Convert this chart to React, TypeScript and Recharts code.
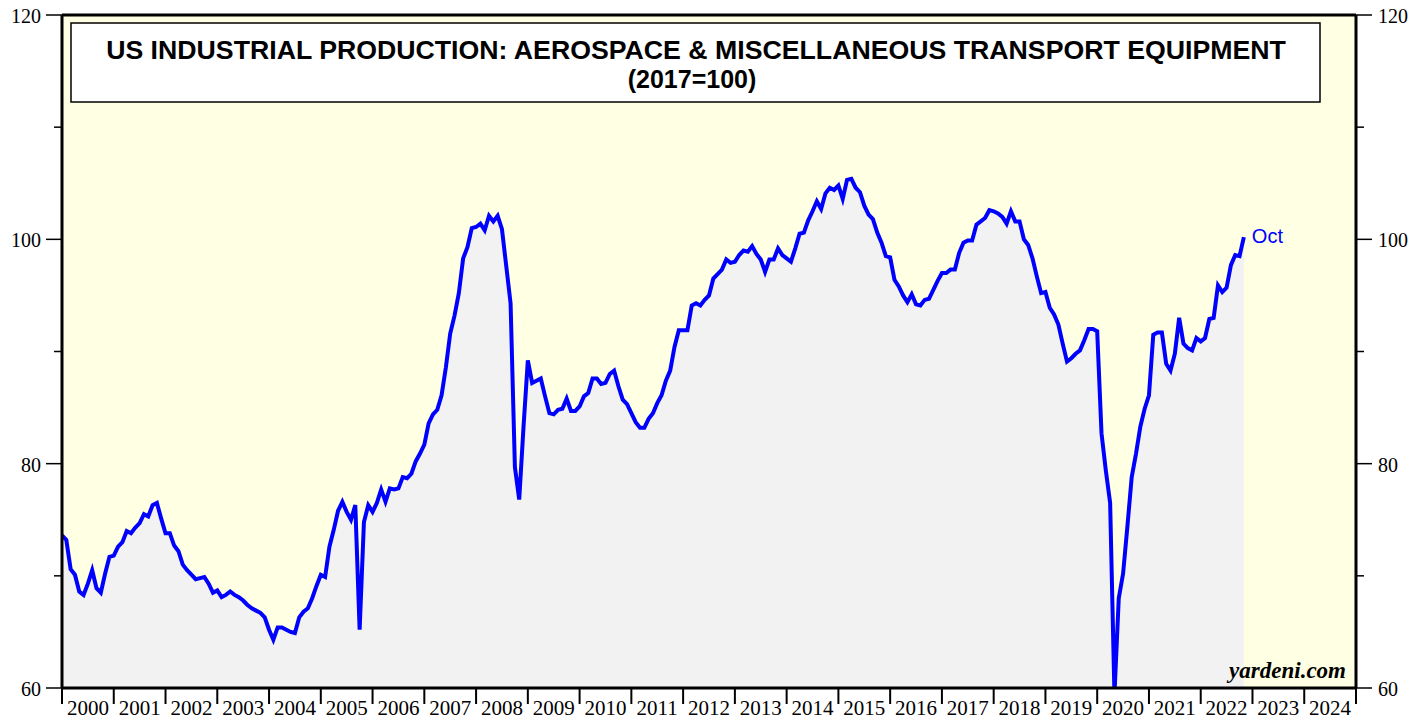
import { ComposedChart, Area, XAxis, YAxis, ReferenceArea, ReferenceLine } from "recharts";

// monthly index values, 2017=100 (Dec 1999 is the starting point on the left edge)
const dec1999 = 73.6;
const v2000 = [73.2, 70.6, 70.1, 68.6, 68.3, 69.3, 70.5, 68.9, 68.5, 70.2, 71.7, 71.8];
const v2001 = [72.6, 73.0, 74.0, 73.8, 74.3, 74.7, 75.5, 75.3, 76.3, 76.5, 75.1, 73.8];
const v2002 = [73.8, 72.7, 72.2, 71.0, 70.5, 70.1, 69.7, 69.8, 69.9, 69.3, 68.5, 68.7];
const v2003 = [68.1, 68.3, 68.6, 68.3, 68.1, 67.8, 67.4, 67.1, 66.9, 66.7, 66.3, 65.2];
const v2004 = [64.3, 65.4, 65.4, 65.2, 65.0, 64.9, 66.3, 66.8, 67.1, 68.0, 69.1, 70.1];
const v2005 = [69.9, 72.6, 74.1, 75.8, 76.6, 75.7, 75.0, 76.3, 65.2, 74.8, 76.3, 75.7];
const v2006 = [76.5, 77.7, 76.6, 77.8, 77.7, 77.8, 78.8, 78.7, 79.1, 80.2, 80.9, 81.7];
const v2007 = [83.6, 84.4, 84.8, 86.1, 88.6, 91.6, 93.2, 95.2, 98.3, 99.3, 101.0, 101.1];
const v2008 = [101.4, 100.8, 102.1, 101.6, 102.1, 100.9, 97.6, 94.3, 79.7, 76.8, 83.3, 89.2];
const v2009 = [87.2, 87.4, 87.6, 86.0, 84.5, 84.4, 84.8, 84.9, 85.8, 84.7, 84.7, 85.1];
const v2010 = [86.0, 86.3, 87.6, 87.6, 87.1, 87.2, 88.0, 88.3, 86.9, 85.7, 85.3, 84.5];
const v2011 = [83.7, 83.2, 83.2, 84.0, 84.5, 85.4, 86.1, 87.4, 88.3, 90.4, 91.9, 91.9];
const v2012 = [91.9, 94.1, 94.3, 94.1, 94.6, 95.0, 96.5, 96.9, 97.3, 98.2, 97.9, 98.0];
const v2013 = [98.6, 99.0, 98.9, 99.4, 98.7, 98.2, 97.1, 98.2, 98.2, 99.2, 98.6, 98.3];
const v2014 = [98.0, 99.2, 100.5, 100.6, 101.7, 102.5, 103.4, 102.7, 104.1, 104.6, 104.4, 104.8];
const v2015 = [103.6, 105.3, 105.4, 104.6, 104.2, 103.0, 102.2, 101.8, 100.6, 99.7, 98.5, 98.4];
const v2016 = [96.4, 95.8, 95.0, 94.4, 95.1, 94.2, 94.1, 94.6, 94.7, 95.5, 96.3, 97.0];
const v2017 = [97.0, 97.3, 97.3, 98.8, 99.7, 99.9, 99.9, 101.3, 101.6, 101.9, 102.6, 102.5];
const v2018 = [102.3, 102.0, 101.4, 102.5, 101.6, 101.6, 100.0, 99.5, 98.3, 96.7, 95.2, 95.3];
const v2019 = [93.9, 93.3, 92.4, 90.7, 89.1, 89.4, 89.8, 90.1, 91.0, 92.0, 92.0, 91.8];
const v2020 = [82.7, 79.4, 76.5, 59.4, 68.0, 70.2, 74.4, 78.8, 80.9, 83.3, 84.9, 86.1];
const v2021 = [91.5, 91.7, 91.7, 88.9, 88.3, 89.8, 93.0, 90.7, 90.3, 90.1, 91.2, 90.9];
const v2022 = [91.2, 92.9, 93.0, 95.9, 95.3, 95.7, 97.7, 98.6, 98.5, 100.2];

const dataYears = [2000, 2001, 2002, 2003, 2004, 2005, 2006, 2007, 2008, 2009, 2010, 2011,
  2012, 2013, 2014, 2015, 2016, 2017, 2018, 2019, 2020, 2021, 2022];
const yearly = [v2000, v2001, v2002, v2003, v2004, v2005, v2006, v2007, v2008, v2009, v2010, v2011,
  v2012, v2013, v2014, v2015, v2016, v2017, v2018, v2019, v2020, v2021, v2022];

const yearTicks = [2000, 2001, 2002, 2003, 2004, 2005, 2006, 2007, 2008, 2009, 2010, 2011, 2012,
  2013, 2014, 2015, 2016, 2017, 2018, 2019, 2020, 2021, 2022, 2023, 2024, 2025];
const valueTicks = [60, 70, 80, 90, 100, 110, 120];
const labeledValues = [60, 80, 100, 120];
const lastLabel = "Oct";

const data: { t: number; v: number }[] = [{ t: 2000, v: dec1999 }];
yearly.forEach((vals, k) => vals.forEach((v, m) => data.push({ t: dataYears[k] + (m + 1) / 12, v })));

const W = 1424;
const H = 719;
const LEFT = 62;
const RIGHT = 1356;
const BOTTOM = 688;
const YEAR_PX = (RIGHT - LEFT) / 25;

const serif = "'Liberation Serif', 'Times New Roman', serif";
const sans = "'Liberation Sans', Arial, sans-serif";

const LeftTick = (props: any) => {
  const { y, payload } = props;
  const major = labeledValues.includes(payload.value);
  return (
    <g>
      <line x1={LEFT - (major ? 16 : 8)} x2={LEFT} y1={y} y2={y} stroke="#000" strokeWidth={1.5} />
      {major && (
        <text x={LEFT - 21} y={y + 8} textAnchor="end" fontFamily={serif} fontSize={20} fill="#000">
          {payload.value}
        </text>
      )}
    </g>
  );
};

const RightTick = (props: any) => {
  const { y, payload } = props;
  const major = labeledValues.includes(payload.value);
  return (
    <g>
      <line x1={RIGHT} x2={RIGHT + (major ? 16 : 8)} y1={y} y2={y} stroke="#000" strokeWidth={1.5} />
      {major && (
        <text x={RIGHT + 22} y={y + 8} textAnchor="start" fontFamily={serif} fontSize={20} fill="#000">
          {payload.value}
        </text>
      )}
    </g>
  );
};

const YearTick = (props: any) => {
  const { x, payload } = props;
  const yr = payload.value;
  return (
    <g>
      <line x1={x} x2={x} y1={BOTTOM} y2={BOTTOM + 16} stroke="#000" strokeWidth={2} />
      {yr < 2025 && (
        <text x={x + YEAR_PX / 2} y={715} textAnchor="middle" fontFamily={serif} fontSize={21} fill="#000">
          {yr}
        </text>
      )}
    </g>
  );
};

const LastLabel = (props: any) => {
  const { x, y, index } = props;
  if (index !== data.length - 1) return null;
  return (
    <text x={x + 8} y={y + 6} fontFamily={sans} fontSize={20} fill="#0000ff">
      {lastLabel}
    </text>
  );
};

export default function App() {
  return (
    <div style={{ position: "absolute", left: 0, top: 0, width: W, height: H, background: "#fff" }}>
      <ComposedChart width={W} height={H} data={data} margin={{ top: 15, right: 0, bottom: 0, left: 0 }}>
        <XAxis
          type="number"
          dataKey="t"
          domain={[2000, 2025]}
          ticks={yearTicks}
          interval={0}
          allowDataOverflow
          height={31}
          tickLine={false}
          axisLine={{ stroke: "#000", strokeWidth: 3 }}
          tick={<YearTick />}
        />
        <YAxis
          yAxisId="l"
          orientation="left"
          domain={[60, 120]}
          ticks={valueTicks}
          interval={0}
          allowDataOverflow
          width={62}
          tickLine={false}
          axisLine={{ stroke: "#000", strokeWidth: 3 }}
          tick={<LeftTick />}
        />
        <YAxis
          yAxisId="r"
          orientation="right"
          domain={[60, 120]}
          ticks={valueTicks}
          interval={0}
          allowDataOverflow
          width={68}
          tickLine={false}
          axisLine={{ stroke: "#000", strokeWidth: 3 }}
          tick={<RightTick />}
        />
        <ReferenceArea yAxisId="l" x1={2000} x2={2025} y1={60} y2={120} fill="#ffffe3" fillOpacity={1} stroke="none" />
        <Area
          yAxisId="l"
          type="linear"
          dataKey="v"
          stroke="#0000ff"
          strokeWidth={4}
          fill="#f2f2f2"
          fillOpacity={1}
          dot={false}
          activeDot={false}
          isAnimationActive={false}
          label={<LastLabel />}
        />
        <ReferenceLine yAxisId="l" y={120} stroke="#000" strokeWidth={3} />
      </ComposedChart>
      <svg width={W} height={H} style={{ position: "absolute", left: 0, top: 0, pointerEvents: "none" }}>
        <rect x={71} y={23} width={1249} height={79} fill="#fff" stroke="#000" strokeWidth={1.5} />
        <text x={696} y={59} textAnchor="middle" fontFamily={sans} fontWeight="bold" fontSize={26.7} fill="#000">
          US INDUSTRIAL PRODUCTION: AEROSPACE &amp; MISCELLANEOUS TRANSPORT EQUIPMENT
        </text>
        <text x={692} y={88} textAnchor="middle" fontFamily={sans} fontWeight="bold" fontSize={25} fill="#000">
          (2017=100)
        </text>
        <text x={1346} y={678} textAnchor="end" fontFamily={serif} fontWeight="bold" fontStyle="italic" fontSize={23} fill="#000">
          yardeni.com
        </text>
      </svg>
    </div>
  );
}
